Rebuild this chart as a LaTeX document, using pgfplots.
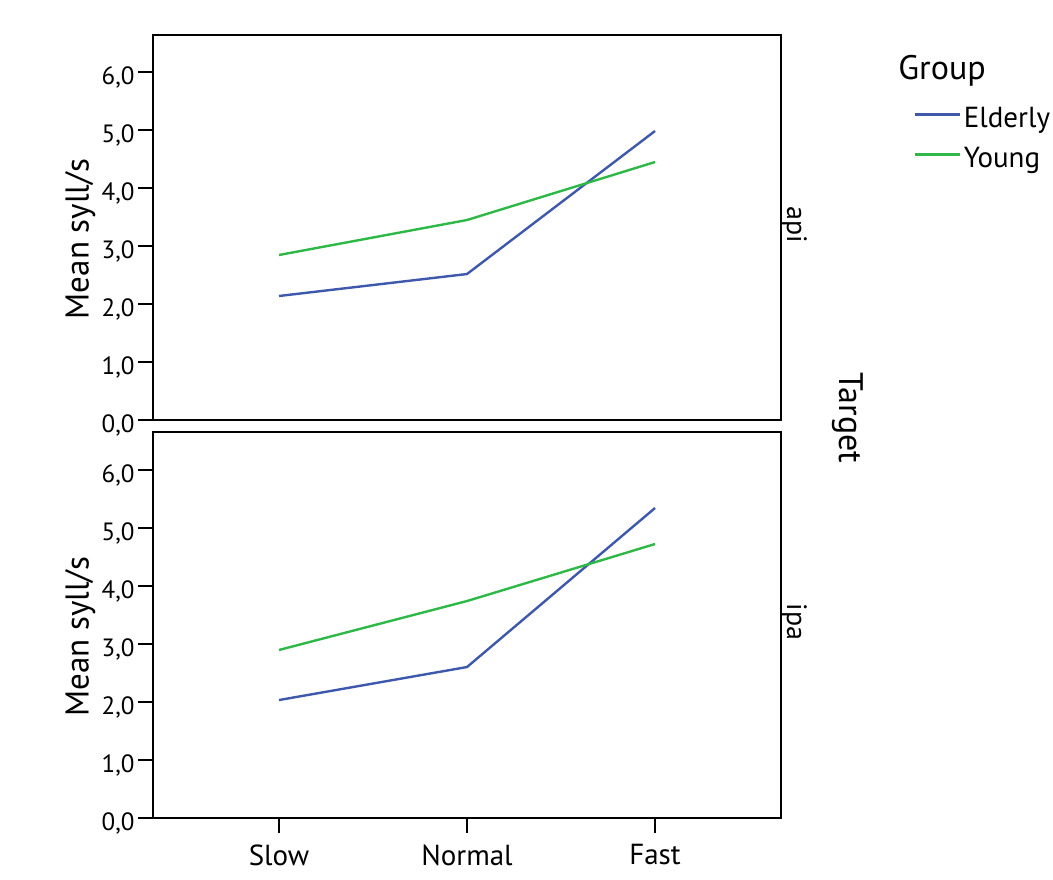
\documentclass[border=0pt]{standalone}
\usepackage{fontspec}
\setmainfont{PT Sans}
\usepackage{pgfplots}
\pgfplotsset{compat=1.18}
\definecolor{eld}{HTML}{3E58AC}
\definecolor{yng}{HTML}{2EB848}
\pgfplotsset{panel/.style={
  scale only axis, width=314pt,
  xmin=-0.67, xmax=2.67, ymin=0,
  ytick={0,1,...,6},
  axis line style={line width=1pt},
  every tick/.style={black, line width=1pt},
  tick align=outside, major tick length=7.5pt,
  ytick pos=left,
  yticklabel style={font=\fontsize{12.5}{14}\selectfont, inner sep=1.5pt, yshift=-2.5pt,
    /pgf/number format/.cd, fixed, fixed zerofill, precision=1, use comma, assume math mode=true},
  ylabel={Mean syll/s},
  ylabel style={font=\fontsize{16.5}{18}\selectfont, at={(axis description cs:-0.116,0.47)}, anchor=center},
  clip=false,
}}
\begin{document}
\begin{tikzpicture}
\path[use as bounding box] (0pt,0pt) rectangle (526.5pt,-439.5pt);
\begin{axis}[panel, height=192.5pt, ymax=6.638,
  at={(76.5pt,-17.5pt)}, anchor=north west,
  xtick=\empty,
  legend style={at={(rel axis cs:1.2102,0.813)}, anchor=north west, draw=none, fill=none,
    inner sep=0pt, row sep=7pt, font=\fontsize{14.5}{16}\selectfont,
    nodes={text height=10pt, text depth=3pt, inner ysep=0pt, inner xsep=1.5pt}},
  legend cell align=left,
  legend image code/.code={\draw[#1] (0pt,0.3em) -- (22.5pt,0.3em);},
]
\addplot[eld, line width=1.2pt] coordinates {(0,2.138) (1,2.517) (2,4.983)};
\addlegendentry{Elderly}
\addplot[yng, line width=1.2pt] coordinates {(0,2.845) (1,3.448) (2,4.448)};
\addlegendentry{Young}
\node[rotate=-90, anchor=base, font=\fontsize{14}{16}\selectfont] at ([xshift=3pt]rel axis cs:1,0.506) {api};
\end{axis}
\begin{axis}[panel, height=193pt, ymax=6.655,
  at={(76.5pt,-216pt)}, anchor=north west,
  xtick={0,1,2}, xticklabels={Slow,Normal,Fast}, xtick pos=bottom,
  xticklabel style={font=\fontsize{14.5}{16}\selectfont, inner sep=5.5pt},
]
\addplot[eld, line width=1.2pt] coordinates {(0,2.034) (1,2.603) (2,5.345)};
\addplot[yng, line width=1.2pt] coordinates {(0,2.897) (1,3.741) (2,4.724)};
\node[rotate=-90, anchor=base, font=\fontsize{14}{16}\selectfont] at ([xshift=3pt]rel axis cs:1,0.508) {ipa};
\end{axis}
\node[rotate=-90, anchor=center, font=\fontsize{17}{20}\selectfont] at (424pt,-209pt) {Target};
\node[anchor=base west, inner sep=0pt, font=\fontsize{17}{20}\selectfont] at (449pt,-39.5pt) {Group};
\end{tikzpicture}
\end{document}
